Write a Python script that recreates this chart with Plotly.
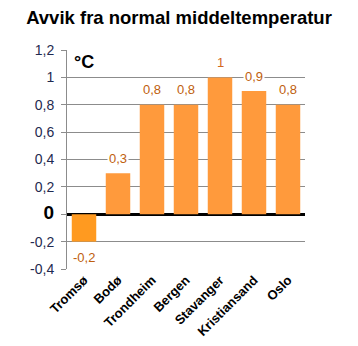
import plotly.graph_objects as go

# Temperature deviation from normal (°C) per city
cities = ["Tromsø", "Bodø", "Trondheim", "Bergen", "Stavanger", "Kristiansand", "Oslo"]
deviation = [-0.2, 0.3, 0.8, 0.8, 1.0, 0.9, 0.8]
value_labels = ["-0,2", "0,3", "0,8", "0,8", "1", "0,9", "0,8"]

y_ticks = [-0.4, -0.2, 0, 0.2, 0.4, 0.6, 0.8, 1.0, 1.2]
y_tick_text = ["-0,4", "-0,2", "<b><span style='font-size:19px;color:#000'>0</span></b>",
               "0,2", "0,4", "0,6", "0,8", "1", "1,2"]

bar_colors = ["#FF9A20" if v < 0 else "#FF9A3C" for v in deviation]
label_colors = ["#D2691E" if v == max(deviation) else "#C0600E" for v in deviation]

fig = go.Figure()
fig.add_trace(go.Bar(
    x=cities, y=deviation,
    marker=dict(color=bar_colors, line=dict(width=0)),
    width=0.72,
    hoverinfo="skip",
))

for c, v, t, col in zip(cities, deviation, value_labels, label_colors):
    fig.add_annotation(
        x=c, y=v, text=t, showarrow=False,
        yshift=15 if v >= 0 else -16,
        font=dict(family="Liberation Sans, Arial", size=13, color=col),
        bgcolor="white", borderpad=1,
    )

fig.add_annotation(
    text="<b>°C</b>", xref="paper", yref="paper", x=0.02, y=1.0,
    xanchor="left", yanchor="top", showarrow=False,
    font=dict(family="Liberation Sans, Arial", size=18, color="#000"),
)

fig.update_layout(
    width=358, height=346,
    margin=dict(l=67, r=53, t=50, b=77),
    paper_bgcolor="white", plot_bgcolor="white",
    showlegend=False,
    title=dict(
        text="<b>Avvik fra normal middeltemperatur</b>",
        x=0.5, xanchor="center", y=0.948, yanchor="middle",
        font=dict(family="Liberation Sans, Arial", size=18.5, color="#000"),
    ),
    bargap=0.28,
)

fig.update_yaxes(
    range=[-0.4, 1.2], tickvals=y_ticks, ticktext=y_tick_text,
    showgrid=True, gridcolor="#8C8C8C", gridwidth=1,
    zeroline=True, zerolinecolor="#000", zerolinewidth=3,
    showline=True, linecolor="#8C8C8C", linewidth=1,
    ticks="outside", ticklen=5, tickcolor="#8C8C8C",
    ticklabelstandoff=4, automargin=False,
    tickfont=dict(family="Liberation Sans, Arial", size=14, color="#1F2A50"),
    fixedrange=True,
)
fig.update_xaxes(
    tickangle=-45, showline=False, showgrid=False, ticks="",
    automargin=False,
    tickfont=dict(family="Liberation Sans, Arial", size=13, color="#000", weight="bold"),
    fixedrange=True,
)

fig.write_html("out.html")
